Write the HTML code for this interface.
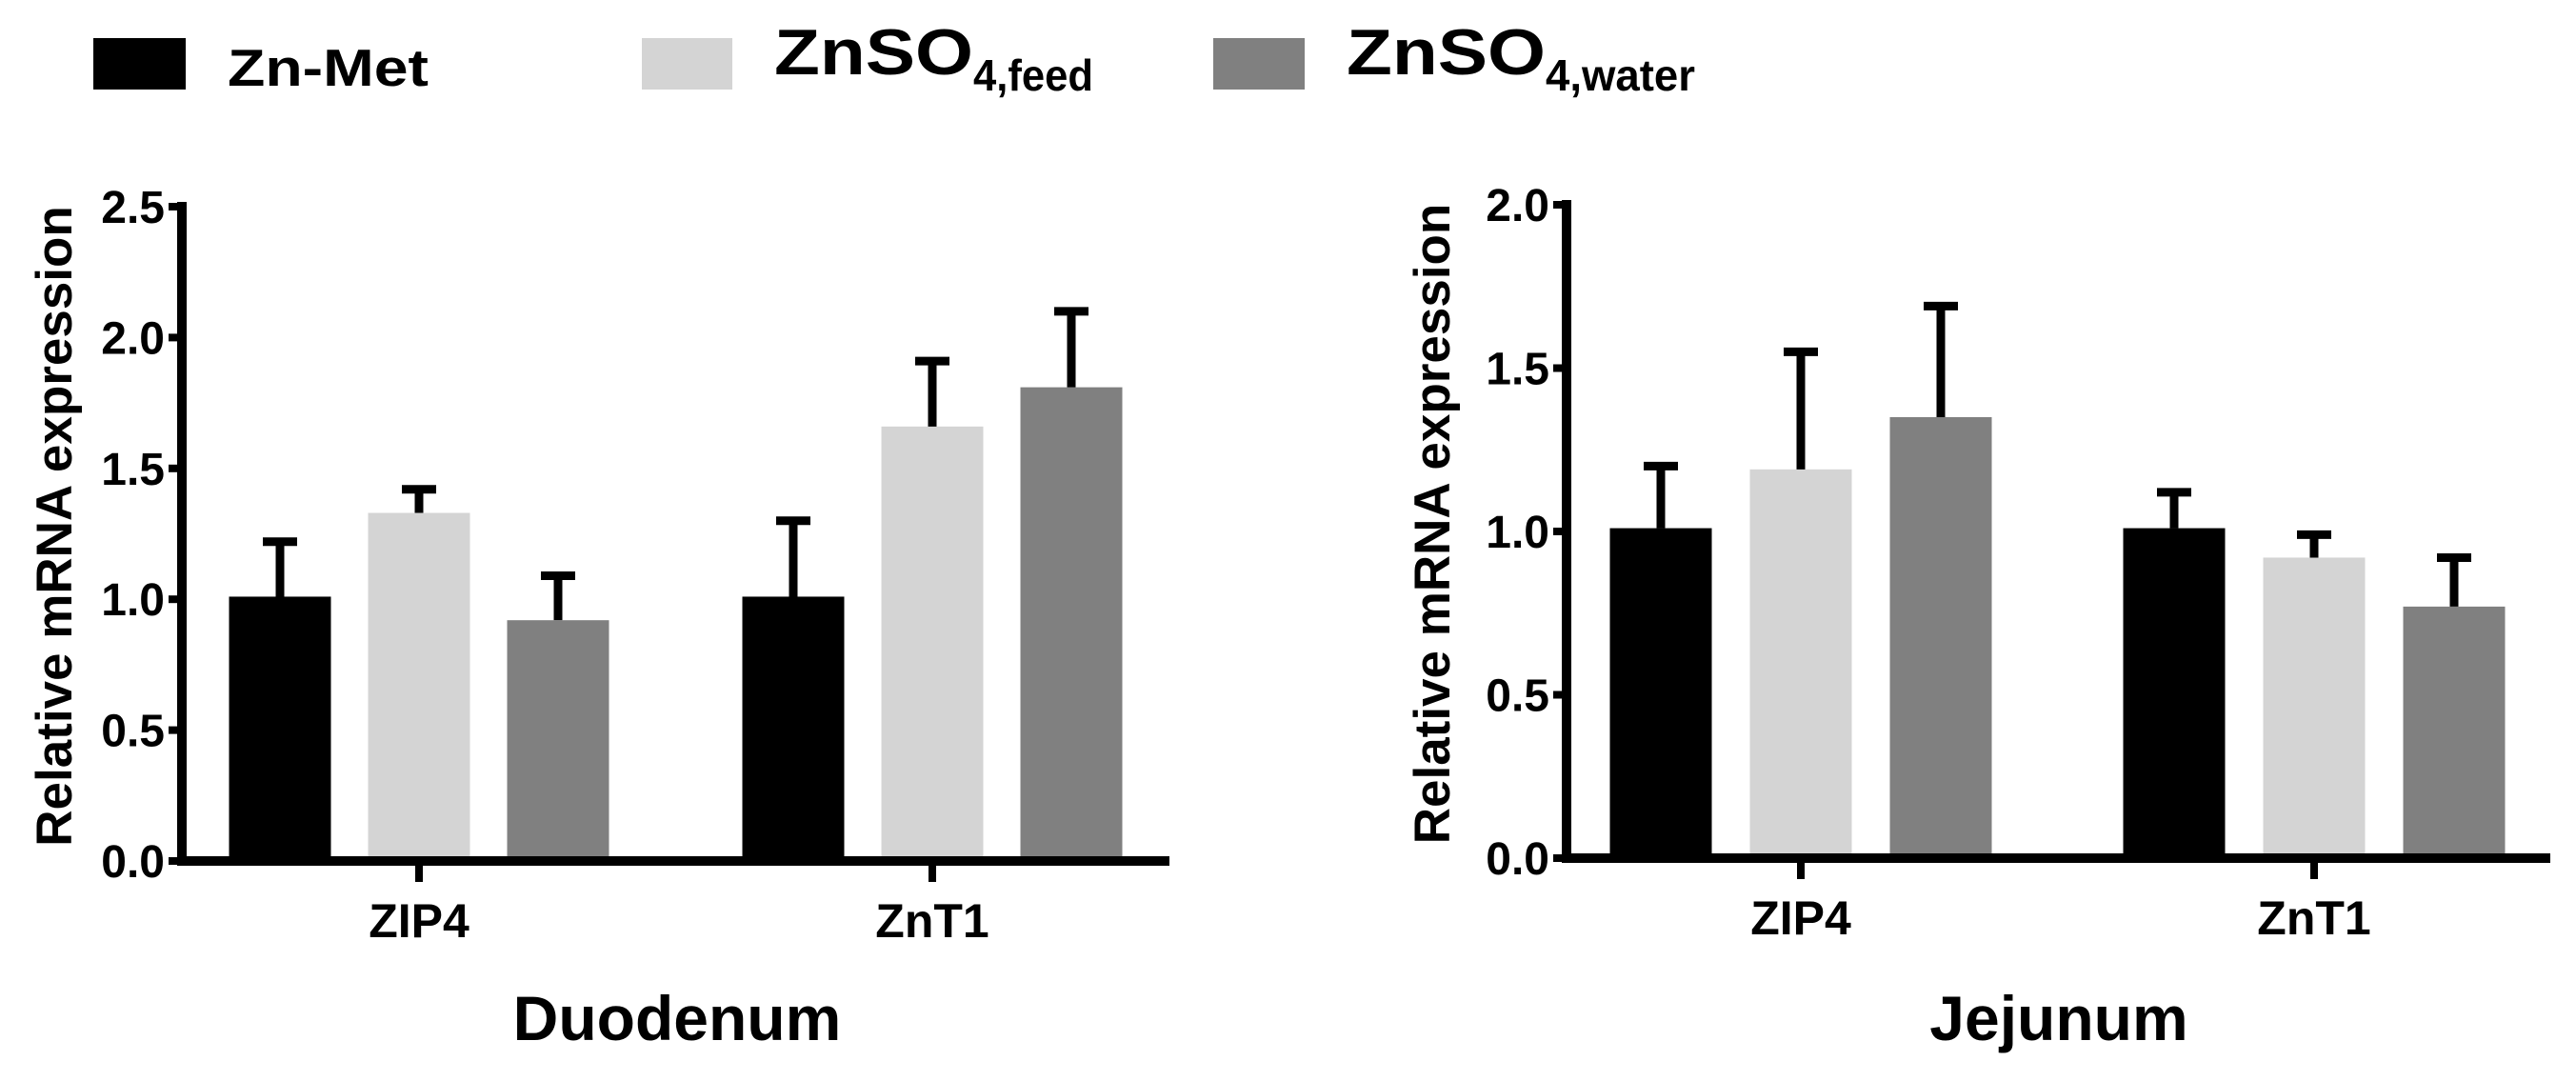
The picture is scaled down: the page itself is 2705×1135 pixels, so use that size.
<!DOCTYPE html>
<html><head><meta charset="utf-8"><style>
html,body{margin:0;padding:0;background:#fff;}
svg{display:block;font-family:"Liberation Sans",Arial,sans-serif;font-weight:bold;}
</style></head><body>
<svg id="chart" width="2705" height="1135" viewBox="0 0 2705 1135" xmlns="http://www.w3.org/2000/svg">
<g>
 <rect x="98" y="40" width="97" height="54" fill="#000"/>
 <text x="239" y="90" font-size="55" textLength="211" lengthAdjust="spacingAndGlyphs">Zn-Met</text>
 <rect x="674" y="40" width="95" height="54" fill="#d4d4d4"/>
 <text x="813" y="78" font-size="68"><tspan textLength="209" lengthAdjust="spacingAndGlyphs">ZnSO</tspan><tspan font-size="46" dy="17" textLength="126" lengthAdjust="spacingAndGlyphs">4,feed</tspan></text>
 <rect x="1274" y="40" width="96" height="54" fill="#808080"/>
 <text x="1414" y="78" font-size="68"><tspan textLength="209" lengthAdjust="spacingAndGlyphs">ZnSO</tspan><tspan font-size="46" dy="17" textLength="157" lengthAdjust="spacingAndGlyphs">4,water</tspan></text>
</g>
<g id="plots"></g>
</svg>
<script>
const categories = ["ZIP4", "ZnT1"];
const seriesNames = ["Zn-Met", "ZnSO4,feed", "ZnSO4,water"];
const duoMeans = [[1.01, 1.01], [1.33, 1.66], [0.92, 1.81]];
const duoTops = [[1.22, 1.30], [1.42, 1.91], [1.09, 2.10]];
const jejMeans = [[1.01, 1.01], [1.19, 0.92], [1.35, 0.77]];
const jejTops = [[1.20, 1.12], [1.55, 0.99], [1.69, 0.92]];
const duoTicks = ["0.0", "0.5", "1.0", "1.5", "2.0", "2.5"];
const jejTicks = ["0.0", "0.5", "1.0", "1.5", "2.0"];

const NS = "http://www.w3.org/2000/svg";
const colors = ["#000", "#d4d4d4", "#808080"];
const root = document.getElementById("plots");
function mk(tag, attrs, parent) {
  const e = document.createElementNS(NS, tag);
  for (const k in attrs) e.setAttribute(k, attrs[k]);
  parent.appendChild(e);
  return e;
}
function drawPanel(cfg) {
  const g = mk("g", {}, root);
  
  
  const ymax = parseFloat(cfg.ticks[cfg.ticks.length - 1]);
  const y = v => cfg.y0 - (v / ymax) * (cfg.y0 - cfg.yTop);
  for (let s = 0; s < cfg.means.length; s++) {
    for (let c = 0; c < categories.length; c++) {
      const cx = cfg.groupX[c] + (s - 1) * cfg.step;
      const v = cfg.means[s][c];
      const r = mk("rect", {x: cx - cfg.bw / 2, y: y(v), width: cfg.bw, height: cfg.y0 - y(v), fill: colors[s]}, g);
      
      
      const t = cfg.tops[s][c];
      const eb = mk("path", {d: `M${cx},${y(v)}V${y(t)}M${cx - 18},${y(t)}H${cx + 18}`, stroke: "#000", "stroke-width": 9, fill: "none"}, g);
      
      
    }
  }
  const ax = mk("path", {d: `M${cfg.x0},${cfg.yTop - 5}V${cfg.y0}H${cfg.x1}`, stroke: "#000", "stroke-width": 10, fill: "none"}, g);
  
  
  cfg.ticks.forEach(tl => {
    const yy = y(parseFloat(tl));
    const tk = mk("line", {x1: cfg.x0 - 14, x2: cfg.x0, y1: yy, y2: yy, stroke: "#000", "stroke-width": 8}, g);
    
    
    const tx = mk("text", {x: cfg.x0 - 18, y: yy + 17, "font-size": 48, "text-anchor": "end"}, g);
    tx.textContent = tl;
    
    
  });
  categories.forEach((cat, c) => {
    const tk = mk("line", {x1: cfg.groupX[c], x2: cfg.groupX[c], y1: cfg.y0, y2: cfg.y0 + 22, stroke: "#000", "stroke-width": 8}, g);
    
    
    const tx = mk("text", {x: cfg.groupX[c], y: cfg.y0 + 80, "font-size": 50, "text-anchor": "middle"}, g);
    tx.textContent = cat;
    
    
  });
  const yt = mk("text", {x: 0, y: 0, "font-size": 53, "text-anchor": "middle", transform: `translate(${cfg.titleX},${(cfg.y0 + cfg.yTop) / 2 - 8}) rotate(-90)`}, g);
  yt.textContent = "Relative mRNA expression";
  
  
  const xt = mk("text", {x: cfg.xTitleX, y: 1092, "font-size": 66, "text-anchor": "middle"}, g);
  xt.textContent = cfg.xTitle;
  
  
}
drawPanel({name: "duodenum-chart", means: duoMeans, tops: duoTops, ticks: duoTicks,
  x0: 191, x1: 1228, y0: 904, yTop: 217, groupX: [440, 979], step: 146, bw: 107,
  titleX: 75, xTitle: "Duodenum", xTitleX: 711});
drawPanel({name: "jejunum-chart", means: jejMeans, tops: jejTops, ticks: jejTicks,
  x0: 1645, x1: 2678, y0: 901, yTop: 215, groupX: [1891, 2430], step: 147, bw: 107,
  titleX: 1522, xTitle: "Jejunum", xTitleX: 2162});
</script>
</body></html>
